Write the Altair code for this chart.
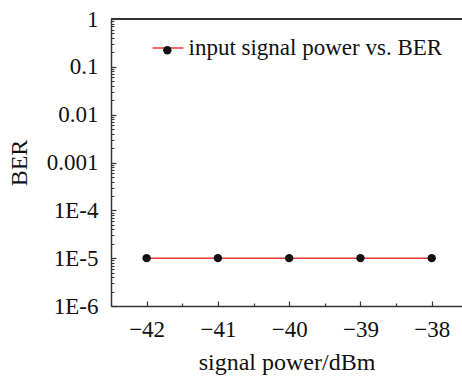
import altair as alt
import pandas as pd

# data
signal_power = [-42, -41, -40, -39, -38]
ber = [1e-5, 1e-5, 1e-5, 1e-5, 1e-5]
series_name = "input signal power vs. BER"

x_major = [-42, -41, -40, -39, -38]
x_minor = [-41.5, -40.5, -39.5, -38.5, -37.5]
y_major = [1e-6, 1e-5, 1e-4, 1e-3, 1e-2, 1e-1, 1]
y_minor = [m * 10.0 ** e for e in range(-6, 0) for m in range(2, 10)]

df = pd.DataFrame({
    "p": signal_power,
    "ber": ber,
    "series": [series_name] * len(signal_power),
    "series_pt": ["marker"] * len(signal_power),
})

W, H = 351, 287
FONT = "Liberation Serif"
AX = "#333333"
RED = "#e8383a"

xscale = alt.Scale(domain=[-42.5, -37.575], nice=False, zero=False)
yscale = alt.Scale(type="log", domain=[1e-6, 1], nice=False)

base = alt.Chart(df)

line = base.mark_line(strokeWidth=1.5).encode(
    x=alt.X("p:Q", scale=xscale, title="signal power/dBm",
            axis=alt.Axis(orient="bottom", values=x_major, format="d", ticks=False,
                          domain=True, domainColor=AX, domainWidth=1.5, grid=False,
                          labelPadding=12, titlePadding=9)),
    y=alt.Y("ber:Q", scale=yscale, title="BER",
            axis=alt.Axis(orient="left", values=y_major, ticks=False, domain=True,
                          domainColor=AX, domainWidth=1.5, grid=False, labelPadding=13,
                          titlePadding=15,
                          labelExpr="datum.value >= 0.0009 ? toString(datum.value) : '1E' + round(log(datum.value) / LN10)")),
    stroke=alt.Stroke("series:N", scale=alt.Scale(range=[RED]),
                      legend=alt.Legend(title=None, orient="none", legendX=40.5, legendY=12.5,
                                        symbolType="stroke", symbolSize=961, symbolStrokeWidth=1.5,
                                        labelOffset=4, padding=0)),
)

points = base.mark_circle(size=70, opacity=1).encode(
    x=alt.X("p:Q", scale=xscale,
            axis=alt.Axis(orient="top", offset=-H, values=x_major, labels=False, title=None,
                          domain=False, ticks=True, tickSize=5, tickColor=AX, tickWidth=1.2,
                          grid=False)),
    y=alt.Y("ber:Q", scale=yscale,
            axis=alt.Axis(orient="right", offset=-W, values=y_major, labels=False, title=None,
                          domain=False, ticks=True, tickSize=5, tickColor=AX, tickWidth=1.2,
                          grid=False)),
    fill=alt.Fill("series_pt:N", scale=alt.Scale(range=["#111111"]),
                  legend=alt.Legend(title=None, orient="none", legendX=44.8, legendY=19.8,
                                    symbolType="circle", symbolSize=70, labelOffset=0,
                                    labelExpr="''", padding=0)),
)

minor = base.mark_point(opacity=0).encode(
    x=alt.X("p:Q", scale=xscale,
            axis=alt.Axis(orient="top", offset=-H, values=x_minor, labels=False, title=None,
                          domain=False, ticks=True, tickSize=3, tickColor=AX, tickWidth=1.2,
                          grid=False)),
    y=alt.Y("ber:Q", scale=yscale,
            axis=alt.Axis(orient="right", offset=-W, values=y_minor, labels=False, title=None,
                          domain=False, ticks=True, tickSize=3, tickColor=AX, tickWidth=1.0,
                          grid=False)),
)

top_border = alt.Chart(df).mark_rule(color=AX, strokeWidth=1.5).encode(
    x=alt.value(0), x2=alt.value(W), y=alt.value(0)
)

chart = alt.layer(line, points, minor, top_border).resolve_axis(
    x="independent", y="independent"
).properties(
    width=W, height=H, autosize="none",
    padding={"left": 111, "top": 19, "right": 0, "bottom": 71},
).configure_view(stroke=None).configure_axis(
    labelFont=FONT, titleFont=FONT, labelFontSize=23, titleFontSize=24,
    labelColor="#111111", titleColor="#111111", titleFontWeight="normal",
).configure_legend(
    labelFont=FONT, labelFontSize=23, labelColor="#111111", labelLimit=400,
)

chart.save("out.html", embed_options={"renderer": "svg", "actions": False})
